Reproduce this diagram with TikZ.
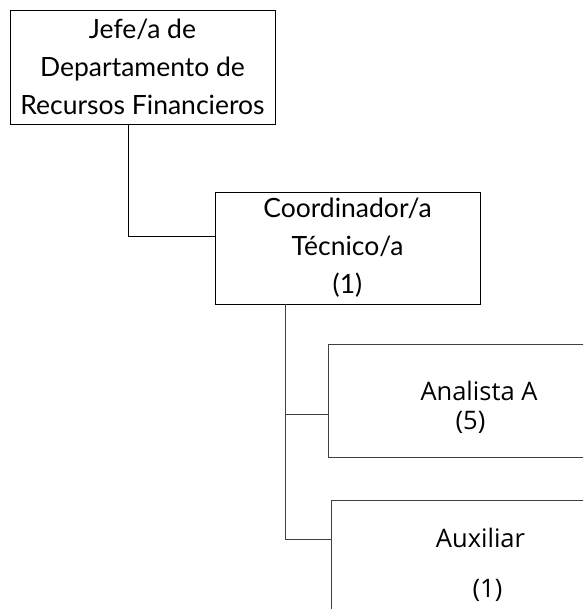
\documentclass[tikz,border=0pt]{standalone}
\usepackage{fontspec}
\setmainfont{Lato}
\newfontfamily\segoe{Open Sans}
\newcommand{\bajar}[1]{\raisebox{-7pt}[\height][\depth]{#1}}
\begin{document}
\begin{tikzpicture}[x=1pt,y=-1pt,
    caja/.style={draw, line width=0.8pt, inner sep=0pt, align=center, font=\fontsize{26.5}{38}\selectfont},
    cajab/.style={caja, draw=black!75, font=\segoe\fontsize{25.5}{29}\selectfont}]

    \useasboundingbox (0,0) rectangle (583,609);
    \clip (0,0) rectangle (583,609);

    \node[caja, minimum width=265, minimum height=114] (jefe) at (142.5,67) {Jefe/a de\\Departamento de\\Recursos Financieros};
    \node[caja, minimum width=265, minimum height=112] (coord) at (347.5,248) {Coordinador/a\\T\'ecnico/a\\(1)};

    \node[cajab, minimum width=302, minimum height=113] (analista) at (479,400.5) {\bajar{Analista A}\\\bajar{(5)\hspace{17pt}}};
    \node[cajab, minimum width=299, minimum height=130] (auxiliar) at (480.5,565) {Auxiliar\hspace{10pt}\\[21pt]\hspace{14pt}(1)};

    \draw[line width=0.8pt] ([xshift=-14.5pt]jefe.south) |- ([yshift=12pt]coord.west);
    \draw[line width=0.8pt, black!75] ([xshift=-62.5pt]coord.south) |- ([yshift=-13.5pt]analista.west);
    \draw[line width=0.8pt, black!75] ([xshift=-62.5pt]coord.south) |- ([yshift=26pt]auxiliar.west);

\end{tikzpicture}
\end{document}
